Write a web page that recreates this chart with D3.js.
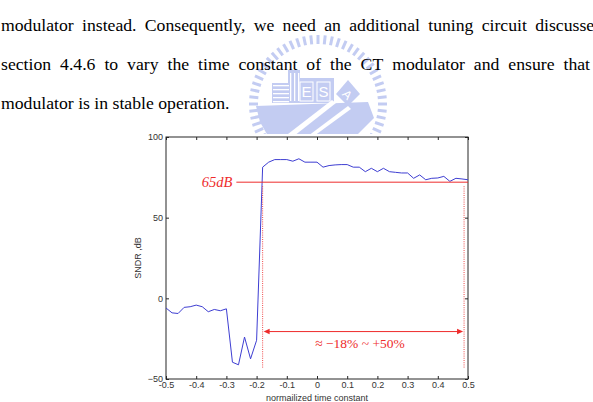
<!DOCTYPE html>
<html><head><meta charset="utf-8">
<script src="https://cdn.jsdelivr.net/npm/d3@7"></script>
<style>body{margin:0;background:#fff}svg{display:block}
.serif{font-family:"Liberation Serif","Times New Roman",Times,serif}
.sans{font-family:"Liberation Sans",Arial,Helvetica,sans-serif}
</style>
</head><body><svg id="c" width="593" height="402"></svg>
<script>
// ---- data ----
const paragraphLines = [
  "modulator instead. Consequently, we need an additional tuning circuit discussed",
  "section 4.4.6 to vary the time constant of the CT modulator and ensure that",
  "modulator is in stable operation."
];
const timeConstant = [-0.5,-0.48,-0.46,-0.44,-0.42,-0.4,-0.38,-0.36,-0.34,-0.32,-0.3,-0.28,-0.26,-0.24,-0.22,-0.2,
  -0.18,-0.16,-0.14,-0.12,-0.1,-0.08,-0.06,-0.04,-0.02,0,
  0.02,0.04,0.06,0.08,0.1,0.12,0.14,0.16,0.18,0.2,0.22,0.24,0.26,0.28,0.3,0.32,0.34,0.36,0.38,0.4,0.42,0.44,0.46,0.48,0.5];
const sndr = [-6,-9,-9.4,-5.6,-5.2,-4.2,-5.2,-8.3,-6.9,-7.7,-6.5,-39.6,-41.2,-24,-37.5,-26,
  81.3,84.4,86,86,86,85,86.5,84.4,84.4,84.4,
  81.3,82.3,82.7,82.9,82.9,81.3,81.3,78.5,80.6,78.5,80.6,78.5,78.1,77.7,77.7,74.4,76.5,73.5,74.4,74.6,75.6,72.5,74.4,74,73.5];
const xTicks = [-0.5,-0.4,-0.3,-0.2,-0.1,0,0.1,0.2,0.3,0.4,0.5];
const yTicks = [-50,0,50,100];
const thresholdLevel = 72;          // red "65dB" reference line
const thresholdStart = -0.267;
const rangeLo = -0.18, rangeHi = 0.487;
const rangeArrowLevel = -20.6;
const rangeMarkerTop = 69.5, rangeMarkerBottom = -43;
const thresholdLabel = "65dB";
const rangeLabel = "\u2248 \u221218% ~ +50%";
const xLabel = "normailized time constant";
const yLabel = "SNDR ,dB";

// ---- drawing ----
const svg = d3.select("#c");

// watermark (faint logo)
const wmColor = "#c3ccf2";
const wm = svg.append("g").attr("fill",wmColor).attr("stroke","none");
const cx = 318, cy = 104, rO = 69, rI = 60;
d3.range(0, 360, 6).forEach(a => {
  const t = (a - 90) * Math.PI / 180;
  wm.append("line")
    .attr("x1", cx + rI*Math.cos(t)).attr("y1", cy + rI*Math.sin(t))
    .attr("x2", cx + rO*Math.cos(t)).attr("y2", cy + rO*Math.sin(t))
    .attr("stroke",wmColor).attr("stroke-width",3);
});
wm.append("rect").attr("x",cx-46).attr("y",cy-21).attr("width",18).attr("height",20);
wm.append("rect").attr("x",cx-30).attr("y",cy-34).attr("width",12).attr("height",33);
for (let i=0;i<5;i++) wm.append("rect").attr("x",cx-45).attr("y",cy-19+i*4).attr("width",16).attr("height",1.3).attr("fill","#fff");
for (let i=0;i<3;i++) wm.append("rect").attr("x",cx-28+i*4).attr("y",cy-31).attr("width",1.3).attr("height",28).attr("fill","#fff");
wm.append("rect").attr("x",cx-18).attr("y",cy-26).attr("width",34).attr("height",25);
[["E",cx-12],["S",cx+5]].forEach(([l,x]) => {
  wm.append("rect").attr("x",x-6).attr("y",cy-22).attr("width",13).attr("height",19).attr("fill","none").attr("stroke","#fff").attr("stroke-width",1);
  wm.append("text").attr("class","sans").attr("x",x+0.5).attr("y",cy-7).attr("text-anchor","middle").attr("font-size",15).attr("fill","#fff").text(l);
});
wm.append("path").attr("d",`M${cx+18},${cy-10} L${cx+30},${cy-24} L${cx+42},${cy-10} L${cx+30},${cy+2} Z`);
wm.append("text").attr("class","sans").attr("x",cx+30).attr("y",cy-5).attr("text-anchor","middle").attr("font-size",12).attr("fill","#fff").attr("transform",`rotate(45 ${cx+30} ${cy-10})`).text("A");
wm.append("path").attr("d",`M${cx-62},${cy+2} L${cx+50},${cy-2} L${cx+56},${cy+14} L${cx+40},${cy+30} L${cx-50},${cy+32} L${cx-58},${cy+18} Z`);
wm.append("path").attr("d",`M${cx-30},${cy+30} L${cx+14},${cy-4} L${cx+18},${cy-1} L${cx-24},${cy+32} Z`).attr("fill","#fff");
wm.append("path").attr("d",`M${cx-10},${cy+32} L${cx+30},${cy+2} L${cx+33},${cy+5} L${cx-4},${cy+32} Z`).attr("fill","#fff");

// figure background covers watermark
svg.append("rect").attr("x",100).attr("y",134).attr("width",420).attr("height",268).attr("fill","#fff");

// paragraph text, justified
const para = svg.append("g").attr("class","serif").attr("font-size",17.7).attr("fill","#000");
const lineY = [31, 70, 109];
const lineRight = [603, 590, null];
paragraphLines.forEach((line, li) => {
  const words = line.split(" ");
  const nodes = words.map(w => para.append("text").attr("y", lineY[li]).text(w));
  const widths = nodes.map(n => n.node().getComputedTextLength());
  const gap = lineRight[li] === null ? 17.7 * 0.25
    : (lineRight[li] - 1 - d3.sum(widths)) / (words.length - 1);
  let xx = 1;
  nodes.forEach((n, i) => { n.attr("x", xx); xx += widths[i] + gap; });
});

// scales
const x = d3.scaleLinear().domain([-0.5, 0.5]).range([166, 468]);
const y = d3.scaleLinear().domain([-50, 100]).range([379, 137]);

const axisColor = "#262626";
const fmt = d => (d === 0 ? "0" : String(+d.toFixed(1)));
function styleAxis(g, showText) {
  g.select(".domain").remove();
  g.attr("font-family", null).attr("font-size", null);
  g.selectAll(".tick line").attr("stroke", axisColor);
  g.selectAll(".tick text").attr("class","sans").attr("fill", "#333").attr("font-size", 9);
  if (!showText) g.selectAll(".tick text").remove();
}
svg.append("g").attr("transform","translate(0,379)")
  .call(d3.axisBottom(x).tickValues(xTicks).tickSizeInner(-3).tickSizeOuter(0).tickPadding(3).tickFormat(fmt))
  .call(g => styleAxis(g, true));
svg.append("g").attr("transform","translate(0,137)")
  .call(d3.axisTop(x).tickValues(xTicks).tickSizeInner(-3).tickSizeOuter(0))
  .call(g => styleAxis(g, false));
svg.append("g").attr("transform","translate(166,0)")
  .call(d3.axisLeft(y).tickValues(yTicks).tickSizeInner(-3).tickSizeOuter(0).tickPadding(3))
  .call(g => styleAxis(g, true));
svg.append("g").attr("transform","translate(468,0)")
  .call(d3.axisRight(y).tickValues(yTicks).tickSizeInner(-3).tickSizeOuter(0))
  .call(g => styleAxis(g, false));

svg.append("rect").attr("x",x(-0.5)).attr("y",y(100))
  .attr("width",x(0.5)-x(-0.5)).attr("height",y(-50)-y(100))
  .attr("fill","none").attr("stroke",axisColor).attr("stroke-width",1);

svg.append("text").attr("class","sans").attr("x",(x(-0.5)+x(0.5))/2).attr("y",400.5).attr("text-anchor","middle")
  .attr("font-size",9).attr("fill","#333").text(xLabel);
svg.append("text").attr("class","sans").attr("transform",`translate(141,${(y(-50)+y(100))/2}) rotate(-90)`)
  .attr("text-anchor","middle").attr("font-size",9).attr("fill","#333").text(yLabel);

// data line
const pts = timeConstant.map((t,i) => [t, sndr[i]]);
svg.append("path").datum(pts)
  .attr("d", d3.line().x(d => x(d[0])).y(d => y(d[1])))
  .attr("fill","none").attr("stroke","#3e3ed2").attr("stroke-width",1);

// annotations
const red = "#ee2b2b";
svg.append("line").attr("x1",x(thresholdStart)).attr("x2",x(0.5))
  .attr("y1",y(thresholdLevel)).attr("y2",y(thresholdLevel))
  .attr("stroke",red).attr("stroke-width",1);
svg.append("text").attr("class","serif").attr("x",x(thresholdStart)-4).attr("y",y(thresholdLevel)+4.5)
  .attr("text-anchor","end").attr("font-style","italic")
  .attr("font-size",14.5).attr("fill",red).text(thresholdLabel);

[rangeLo, rangeHi].forEach(v => {
  svg.append("line").attr("x1",x(v)).attr("x2",x(v))
    .attr("y1",y(rangeMarkerTop)).attr("y2",y(rangeMarkerBottom))
    .attr("stroke",red).attr("stroke-width",1).attr("stroke-dasharray","1,1.2").attr("opacity",0.85);
});
const ay = y(rangeArrowLevel);
svg.append("line").attr("x1",x(rangeLo)+4).attr("x2",x(rangeHi)-4).attr("y1",ay).attr("y2",ay)
  .attr("stroke",red).attr("stroke-width",1);
svg.append("path").attr("d",`M${x(rangeLo)+1},${ay} l6,-2.8 l0,5.6 Z`).attr("fill",red);
svg.append("path").attr("d",`M${x(rangeHi)-1},${ay} l-6,-2.8 l0,5.6 Z`).attr("fill",red);
svg.append("text").attr("class","serif").attr("x",360).attr("y",y(-30.6)).attr("text-anchor","middle")
  .attr("font-size",13.5).attr("fill",red).text(rangeLabel);
</script></body></html>
